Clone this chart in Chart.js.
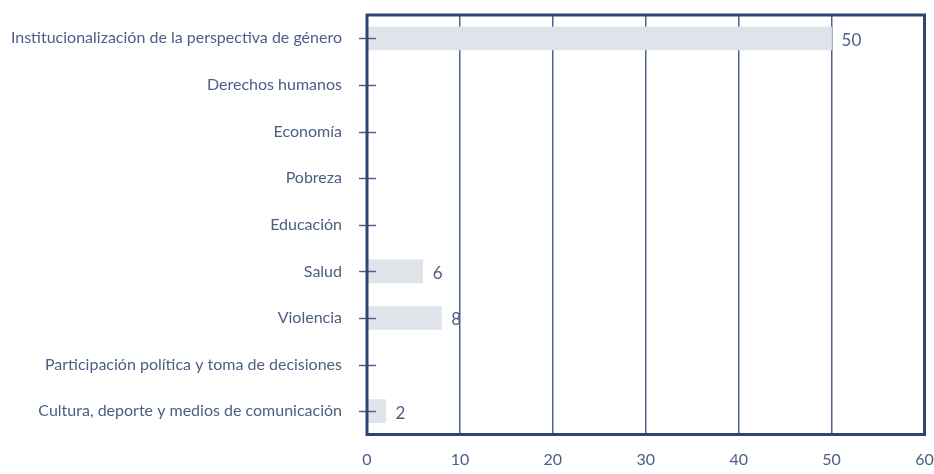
<!DOCTYPE html>
<html>
<head>
<meta charset="utf-8">
<script src="https://cdn.jsdelivr.net/npm/chart.js@4.4.0/dist/chart.umd.min.js"></script>
<style>
  html, body { margin: 0; padding: 0; background: #ffffff; }
  #wrap { width: 934px; height: 474px; position: relative; }
</style>
</head>
<body>
<div id="wrap"><canvas id="c" width="934" height="474"></canvas></div>
<script>
const categories = [
  "Institucionalización de la perspectiva de género",
  "Derechos humanos",
  "Economía",
  "Pobreza",
  "Educación",
  "Salud",
  "Violencia",
  "Participación política y toma de decisiones",
  "Cultura, deporte y medios de comunicación"
];
const values = [50, 0, 0, 0, 0, 6, 8, 0, 2];
const xTicks = [0, 10, 20, 30, 40, 50, 60];

const NAVY = "#2d4676";
const GRID = "#4f6390";
const TEXT = "#4d5d84";
const BAR = "#dfe3ea";
const FONT = "Lato, 'Open Sans', sans-serif";

const framePlugin = {
  id: "frame",
  afterDatasetsDraw(chart) {
    const ctx = chart.ctx;
    const a = chart.chartArea;
    const y = chart.scales.y;
    const meta = chart.getDatasetMeta(0);
    ctx.save();
    ctx.strokeStyle = GRID;
    ctx.lineWidth = 1.5;
    categories.forEach((c, i) => {
      const py = Math.round(y.getPixelForValue(i)) + 0.5;
      ctx.beginPath();
      ctx.moveTo(a.left - 8, py);
      ctx.lineTo(a.left + 9, py);
      ctx.stroke();
    });
    ctx.strokeStyle = NAVY;
    ctx.lineWidth = 3;
    ctx.strokeRect(a.left, a.top, a.right - a.left, a.bottom - a.top);
    ctx.fillStyle = TEXT;
    ctx.font = "17px " + FONT;
    ctx.textAlign = "left";
    ctx.textBaseline = "middle";
    meta.data.forEach((bar, i) => {
      if (values[i] > 0) {
        ctx.fillText(String(values[i]), bar.x + 10, bar.y + 2);
      }
    });
    ctx.restore();
  }
};

function zeroPad(scale) {
  scale.paddingLeft = 0; scale.paddingRight = 0;
  scale.paddingTop = 0; scale.paddingBottom = 0;
}

new Chart(document.getElementById("c"), {
  type: "bar",
  data: {
    labels: categories,
    datasets: [{
      data: values,
      backgroundColor: BAR,
      borderWidth: 0,
      barThickness: 23
    }]
  },
  options: {
    indexAxis: "y",
    responsive: false,
    animation: false,
    devicePixelRatio: 1,
    layout: { padding: { top: 15, right: 9.5, left: 0, bottom: 0 }, autoPadding: false },
    plugins: { legend: { display: false }, tooltip: { enabled: false } },
    scales: {
      x: {
        type: "linear",
        min: 0,
        max: 60,
        afterBuildTicks(scale) { scale.ticks = xTicks.map(v => ({ value: v })); },
        afterFit(scale) { scale.height = 39.5; zeroPad(scale); },
        grid: { color: GRID, lineWidth: 1.5, drawTicks: false },
        border: { display: false },
        ticks: { color: TEXT, font: { family: FONT, size: 16 }, padding: 16 }
      },
      y: {
        afterFit(scale) { scale.width = 367; zeroPad(scale); },
        grid: { display: false, drawTicks: false },
        border: { display: false },
        ticks: { color: TEXT, font: { family: FONT, size: 16 }, padding: 25 }
      }
    }
  },
  plugins: [framePlugin]
});
</script>
</body>
</html>
